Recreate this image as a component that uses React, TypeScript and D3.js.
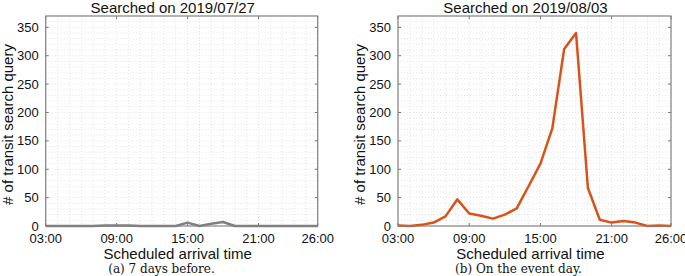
import React from 'react';
import * as d3 from 'd3';

// hours of scheduled arrival (26:00 = 2:00 next day)
const hours = d3.range(3, 27);
const before = [0, 0, 0, 0, 0, 1, 1, 1, 0, 0, 0, 0, 6, 0, 4, 7, 0, 0, 0, 0, 0, 0, 0, 0];
const eventDay = [1, 0, 2, 6, 17, 47, 22, 18, 13, 20, 31, 70, 110, 172, 312, 340, 67, 11, 6, 9, 6, 0, 1, 0];
const xTicks = [3, 9, 15, 21, 26];
const xTickLabels = ['03:00', '09:00', '15:00', '21:00', '26:00'];
const yTicks = [0, 50, 100, 150, 200, 250, 300, 350];

const W = 685;
const H = 276;
const top = 16;
const bottom = 226;
const font = '"Liberation Sans", Arial, sans-serif';

function Panel({ x0, x1, data, color, title, caption, captionX }: any) {
  const x = d3.scaleLinear().domain([3, 26]).range([x0, x1]);
  const y = d3.scaleLinear().domain([0, 370]).range([bottom, top]);
  const line = d3.line<number>()
    .x((_, i) => x(hours[i]))
    .y((d) => y(d));
  const minorY = d3.range(10, 370, 10);
  const cx = (x0 + x1) / 2;

  return (
    <g>
      {hours.map((h) => (
        <line key={'gx' + h} x1={x(h)} x2={x(h)} y1={top} y2={bottom}
          stroke="#d4d4d4" strokeWidth={0.6} strokeDasharray="1,2" />
      ))}
      {minorY.map((v) => (
        <line key={'gy' + v} x1={x0} x2={x1} y1={y(v)} y2={y(v)}
          stroke="#d4d4d4" strokeWidth={0.6} strokeDasharray="1,2" />
      ))}
      {xTicks.map((t) => (
        <g key={'xt' + t}>
          <line x1={x(t)} x2={x(t)} y1={bottom} y2={bottom - 3} stroke="#777" />
          <line x1={x(t)} x2={x(t)} y1={top} y2={top + 3} stroke="#777" />
        </g>
      ))}
      {yTicks.map((t) => (
        <g key={'yt' + t}>
          <line x1={x0} x2={x0 + 3} y1={y(t)} y2={y(t)} stroke="#777" />
          <line x1={x1} x2={x1 - 3} y1={y(t)} y2={y(t)} stroke="#777" />
          <text x={x0 - 7} y={y(t)} dy="0.35em" textAnchor="end" fontSize={13} fontFamily={font} fill="#111">{t}</text>
        </g>
      ))}
      <path d={line(data) || ''} fill="none" stroke={color} strokeWidth={2.5} strokeLinejoin="round" />
      <rect x={x0} y={top} width={x1 - x0} height={bottom - top} fill="none" stroke="#808080" strokeWidth={1.2} />
      {xTicks.map((t, i) => (
        <text key={'xl' + t} x={x(t)} y={243} textAnchor="middle" fontSize={13} fontFamily={font} fill="#111">{xTickLabels[i]}</text>
      ))}
      <text x={cx - 9} y={13} textAnchor="middle" fontSize={15} fontFamily={font} fill="#111">{title}</text>
      <text x={cx - 4} y={259} textAnchor="middle" fontSize={15} fontFamily={font} fill="#111">Scheduled arrival time</text>
      <text x={captionX} y={273} textAnchor="middle" fontSize={12} fontFamily='"DejaVu Serif", serif' fill="#111">{caption}</text>
      <text transform={`translate(${x0 - 33},${124.5}) rotate(-90)`} textAnchor="middle" fontSize={15} fontFamily={font} fill="#111">
        # of transit search query
      </text>
    </g>
  );
}

export default function App() {
  return (
    <svg width={W} height={H} style={{ position: 'absolute', left: 0, top: 0 }}>
      <rect width={W} height={H} fill="#fff" />
      <Panel x0={45.7} x1={317.7} data={before} color="#7f7f7f" captionX={161.5}
        title="Searched on 2019/07/27" caption="(a) 7 days before." />
      <Panel x0={398} x1={671} data={eventDay} color="#d95319" captionX={518.5}
        title="Searched on 2019/08/03" caption="(b) On the event day." />
    </svg>
  );
}
